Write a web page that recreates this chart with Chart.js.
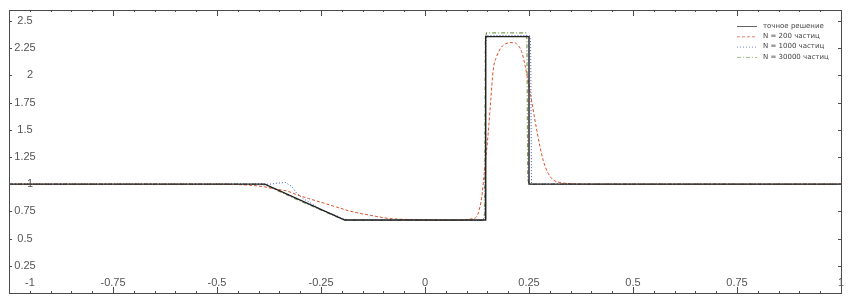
<!DOCTYPE html>
<html>
<head>
<meta charset="utf-8">
<script src="https://cdn.jsdelivr.net/npm/chart.js@4.4.1/dist/chart.umd.min.js"></script>
<style>
  html, body { margin: 0; padding: 0; background: #fff; }
  #wrap { width: 851px; height: 303px; }
</style>
</head>
<body>
<div id="wrap"><canvas id="sodChart" width="851" height="303"></canvas></div>
<script>
// --- données ---
const exactX = [-1, -0.385, -0.193, 0.146, 0.146, 0.250, 0.250, 1];
const exactY = [1, 1, 0.67, 0.67, 2.355, 2.355, 1, 1];

const n200X = [-1, -0.50, -0.461, -0.421, -0.385, -0.361, -0.333, -0.306, -0.28, -0.253, -0.213, -0.173, -0.133, -0.084, -0.04, 0, 0.05, 0.09, 0.11, 0.124, 0.130, 0.136, 0.144, 0.152, 0.158, 0.164, 0.172, 0.184, 0.194, 0.204, 0.212, 0.220, 0.232, 0.240, 0.252, 0.269, 0.284, 0.296, 0.308, 0.325, 0.349, 0.385, 1];
const n200Y = [1, 1, 0.998, 0.99, 0.975, 0.955, 0.938, 0.90, 0.868, 0.837, 0.79, 0.745, 0.715, 0.684, 0.675, 0.672, 0.670, 0.672, 0.68, 0.70, 0.76, 0.87, 1.16, 1.47, 1.77, 2.05, 2.17, 2.26, 2.29, 2.30, 2.30, 2.29, 2.22, 2.10, 1.86, 1.49, 1.22, 1.10, 1.04, 1.015, 1.005, 1.0, 1];

const n1000X = [-1, -0.37, -0.355, -0.335, -0.321, -0.309, -0.294, -0.27, -0.25, -0.22, -0.20, -0.185, 0.14, 0.144, 0.146, 0.149, 0.252, 0.254, 0.256, 1];
const n1000Y = [1, 1.0, 1.01, 1.015, 0.98, 0.92, 0.87, 0.815, 0.765, 0.722, 0.688, 0.672, 0.665, 0.69, 2.30, 2.365, 2.365, 2.30, 1.0, 1];

const n30000X = [-1, -0.392, -0.382, -0.30, -0.20, -0.188, 0.140, 0.143, 0.145, 0.148, 0.242, 0.245, 0.247, 0.250, 1];
const n30000Y = [1, 1, 0.99, 0.845, 0.68, 0.668, 0.668, 0.72, 2.33, 2.39, 2.39, 2.33, 1.05, 1, 1];

const seriesNames = ['точное решение', 'N = 200 частиц', 'N = 1000 частиц', 'N = 30000 частиц'];

const xTicks = [-1, -0.75, -0.5, -0.25, 0, 0.25, 0.5, 0.75, 1];
const xTickLabels = ['-1', '-0.75', '-0.5', '-0.25', '0', '0.25', '0.5', '0.75', '1'];
const yTicks = [0.25, 0.5, 0.75, 1, 1.25, 1.5, 1.75, 2, 2.25, 2.5];
const yTickLabels = ['0.25', '0.5', '0.75', '1', '1.25', '1.5', '1.75', '2', '2.25', '2.5'];

function pairs(xs, ys) {
    return xs.map((x, i) => ({ x: x, y: ys[i] }));
}

// cadre, graduations et libellés dessinés à l'intérieur (style gnuplot)
const framePlugin = {
    id: 'framePlugin',
    afterDraw(chart) {
        const ctx = chart.ctx;
        const a = chart.chartArea;
        const sx = chart.scales.x;
        const sy = chart.scales.y;
        ctx.save();
        ctx.strokeStyle = '#4a4a4a';
        ctx.lineWidth = 1;
        ctx.strokeRect(Math.round(a.left) + 0.5, Math.round(a.top) + 0.5,
            Math.round(a.right - a.left), Math.round(a.bottom - a.top));

        // graduations en x (majeures tous les 0.25, mineures tous les 0.05)
        ctx.beginPath();
        for (let i = -20; i <= 20; i++) {
            const v = i / 20;
            const px = Math.round(sx.getPixelForValue(v)) + 0.5;
            const len = (i % 5 === 0) ? 6 : 2;
            ctx.moveTo(px, a.bottom); ctx.lineTo(px, a.bottom - len);
            ctx.moveTo(px, a.top); ctx.lineTo(px, a.top + len);
        }
        yTicks.forEach(v => {
            const py = Math.round(sy.getPixelForValue(v)) + 0.5;
            ctx.moveTo(a.left, py); ctx.lineTo(a.left + 3, py);
            ctx.moveTo(a.right, py); ctx.lineTo(a.right - 3, py);
        });
        ctx.stroke();

        ctx.fillStyle = '#555';
        ctx.font = '11px "Liberation Sans", Arial, sans-serif';
        ctx.textAlign = 'center';
        ctx.textBaseline = 'middle';
        xTicks.forEach((v, i) => {
            let px = sx.getPixelForValue(v);
            if (i === 0) px = a.left + 21;
            ctx.fillText(xTickLabels[i], px, a.bottom - 10);
        });
        yTicks.forEach((v, i) => {
            const lbl = yTickLabels[i];
            const px = lbl.indexOf('.') < 0 ? a.left + 21 : a.left + 16;
            ctx.fillText(lbl, px, sy.getPixelForValue(v));
        });

        // légende en haut à droite
        ctx.font = '7px "DejaVu Sans", sans-serif';
        ctx.textAlign = 'left';
        chart.data.datasets.forEach((ds, i) => {
            const y = a.top + 16 + i * 10.3;
            ctx.save();
            ctx.strokeStyle = ds.borderColor;
            ctx.globalAlpha = 0.7;
            ctx.lineWidth = 1;
            ctx.setLineDash(ds.borderDash || []);
            ctx.beginPath();
            ctx.moveTo(737, y + 0.5); ctx.lineTo(757, y + 0.5);
            ctx.stroke();
            ctx.restore();
            ctx.fillStyle = '#444';
            ctx.fillText(ds.label, 763, y);
        });
        ctx.restore();
    }
};

const ctx = document.getElementById('sodChart').getContext('2d');

const sodChart = new Chart(ctx, {
    type: 'scatter',
    data: {
        datasets: [
            {
                label: seriesNames[0],
                data: pairs(exactX, exactY),
                borderColor: '#222222',
                borderWidth: 1.4,
                borderDash: []
            },
            {
                label: seriesNames[1],
                data: pairs(n200X, n200Y),
                borderColor: '#d9502a',
                borderWidth: 1,
                borderDash: [3, 2],
                cubicInterpolationMode: 'monotone'
            },
            {
                label: seriesNames[2],
                data: pairs(n1000X, n1000Y),
                borderColor: '#3a55c8',
                borderWidth: 1,
                borderDash: [1, 2]
            },
            {
                label: seriesNames[3],
                data: pairs(n30000X, n30000Y),
                borderColor: '#7f9a5a',
                borderWidth: 1.2,
                borderDash: [4, 2, 1, 2]
            }
        ]
    },
    options: {
        responsive: false,
        animation: false,
        devicePixelRatio: 1,
        showLine: true,
        elements: {
            point: { radius: 0, hoverRadius: 0 },
            line: { fill: false, tension: 0 }
        },
        layout: { padding: { left: 9, right: 10, top: 10, bottom: 10 } },
        scales: {
            x: { type: 'linear', min: -1, max: 1, display: false },
            y: { type: 'linear', min: 0, max: 2.6, display: false }
        },
        plugins: {
            legend: { display: false },
            tooltip: { enabled: false }
        }
    },
    plugins: [framePlugin]
});
</script>
</body>
</html>
